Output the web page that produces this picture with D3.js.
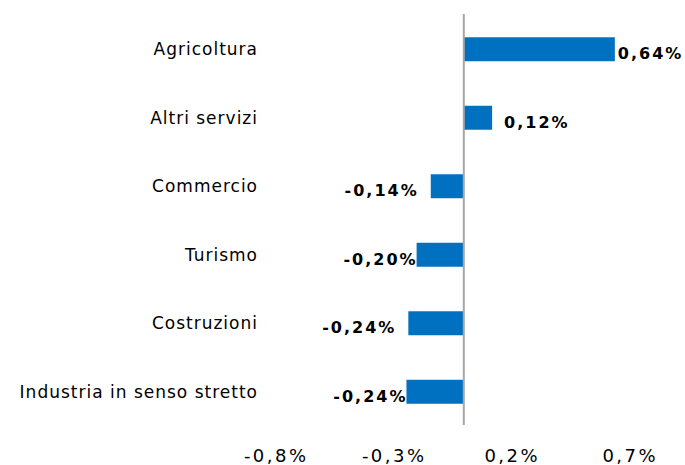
<!DOCTYPE html>
<html>
<head>
<meta charset="utf-8">
<script src="https://cdn.jsdelivr.net/npm/d3@7"></script>
<style>
  body { margin: 0; background: #fff; }
  svg { display: block; }
</style>
</head>
<body>
<div class="chart"></div>
<script>
// data
const categories = ["Agricoltura", "Altri servizi", "Commercio", "Turismo", "Costruzioni", "Industria in senso stretto"]
const values = [0.64, 0.12, -0.14, -0.20, -0.235, -0.243]
const valueLabels = ["0,64%", "0,12%", "-0,14%", "-0,20%", "-0,24%", "-0,24%"]
const tickValues = [-0.8, -0.3, 0.2, 0.7]
const tickLabels = ["-0,8%", "-0,3%", "0,2%", "0,7%"]

// the labels in the original sit at slightly different gaps from the bars
const labelGap = [3, 12, 14, 1, 14, 1]

const width = 685, height = 465
const font = "DejaVu Sans, Verdana, sans-serif"
const valSpacing = 2, tickSpacing = 2.5

var svg = d3.select(".chart").append("svg")
  .attr("width", width)
  .attr("height", height)

var x = d3.scaleLinear()
  .domain([-0.8, 0.7])
  .range([275, 629])

var y = d3.scaleBand()
  .domain(categories)
  .range([14, 425])
  .paddingInner(0.65)
  .paddingOuter(0.325)

// bars
svg.append("g").selectAll("rect")
  .data(values)
  .enter()
  .append("rect")
  .attr("x", d => x(Math.min(0, d)))
  .attr("width", d => Math.abs(x(d) - x(0)))
  .attr("y", (d, i) => y(categories[i]) + 1)
  .attr("height", y.bandwidth())
  .attr("fill", "#0070C0")

// zero axis line
svg.append("line")
  .attr("x1", x(0)).attr("x2", x(0))
  .attr("y1", 14).attr("y2", 425)
  .attr("stroke", "#a6a6a6")
  .attr("stroke-width", 2)

// category labels
svg.append("g").selectAll("text")
  .data(categories)
  .enter()
  .append("text")
  .attr("x", 258)
  .attr("y", d => y(d) + y.bandwidth() / 2 + 1)
  .attr("dy", "0.36em")
  .attr("text-anchor", "end")
  .style("font-family", font)
  .style("font-size", "17px")
  .style("letter-spacing", "1px")
  .attr("fill", "#000")
  .text(d => d)

// value labels
svg.append("g").selectAll("text")
  .data(values)
  .enter()
  .append("text")
  .attr("x", (d, i) => d >= 0 ? x(d) + labelGap[i] : x(d) - labelGap[i] + valSpacing)
  .attr("y", (d, i) => y(categories[i]) + y.bandwidth() / 2 + 5)
  .attr("dy", "0.36em")
  .attr("text-anchor", d => d >= 0 ? "start" : "end")
  .style("font-family", font)
  .style("font-size", "16px")
  .style("font-weight", "bold")
  .style("letter-spacing", valSpacing + "px")
  .attr("fill", "#000")
  .text((d, i) => valueLabels[i])

// x tick labels
svg.append("g").selectAll("text")
  .data(tickValues)
  .enter()
  .append("text")
  .attr("x", d => x(d) + tickSpacing / 2)
  .attr("y", 462)
  .attr("text-anchor", "middle")
  .style("font-family", font)
  .style("font-size", "18px")
  .style("letter-spacing", tickSpacing + "px")
  .attr("fill", "#000")
  .text((d, i) => tickLabels[i])
</script>
</body>
</html>
